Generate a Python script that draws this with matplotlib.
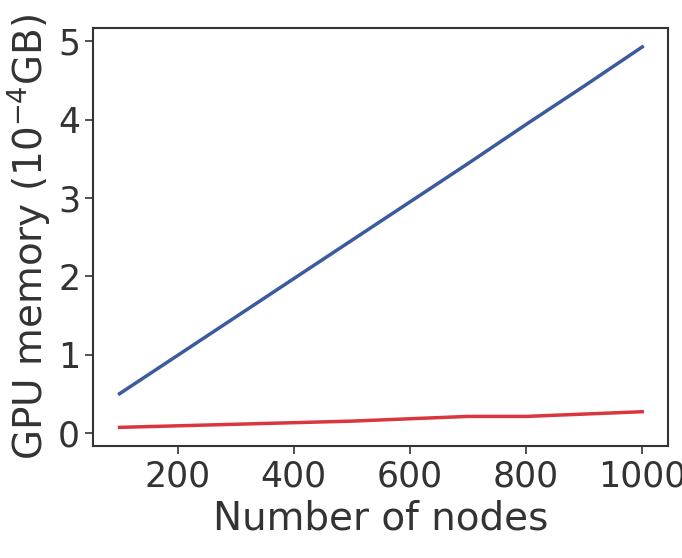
import matplotlib
matplotlib.use("Agg")
import matplotlib.pyplot as plt

nodes = [100, 200, 300, 400, 500, 600, 700, 800, 900, 1000]
mem_full = [0.50, 0.99, 1.48, 1.97, 2.46, 2.95, 3.44, 3.94, 4.43, 4.93]
mem_ours = [0.07, 0.09, 0.11, 0.13, 0.15, 0.18, 0.21, 0.21, 0.24, 0.27]

plt.rcParams['font.family'] = ['DejaVu Sans']
plt.rcParams['text.color'] = '#333333'
plt.rcParams['axes.labelcolor'] = '#333333'
plt.rcParams['xtick.color'] = '#333333'
plt.rcParams['ytick.color'] = '#333333'

fig, ax = plt.subplots(figsize=(6.82, 5.58), dpi=100)
ax.plot(nodes, mem_full, color='#3c5a9e', linewidth=2.5)
ax.plot(nodes, mem_ours, color='#d9363e', linewidth=2.5)

ax.set_xlabel('Number of nodes', fontsize=28)
ax.set_ylabel('GPU memory ($10^{-4}$GB)', fontsize=28)
ax.tick_params(labelsize=25, length=6, width=1.2)
ax.set_xticks([200, 400, 600, 800, 1000])
ax.set_yticks([0, 1, 2, 3, 4, 5])
for s in ax.spines.values():
    s.set_color('#333333')
    s.set_linewidth(1.5)

fig.subplots_adjust(left=0.137, right=0.98, top=0.95, bottom=0.2)
fig.savefig('out.png')
